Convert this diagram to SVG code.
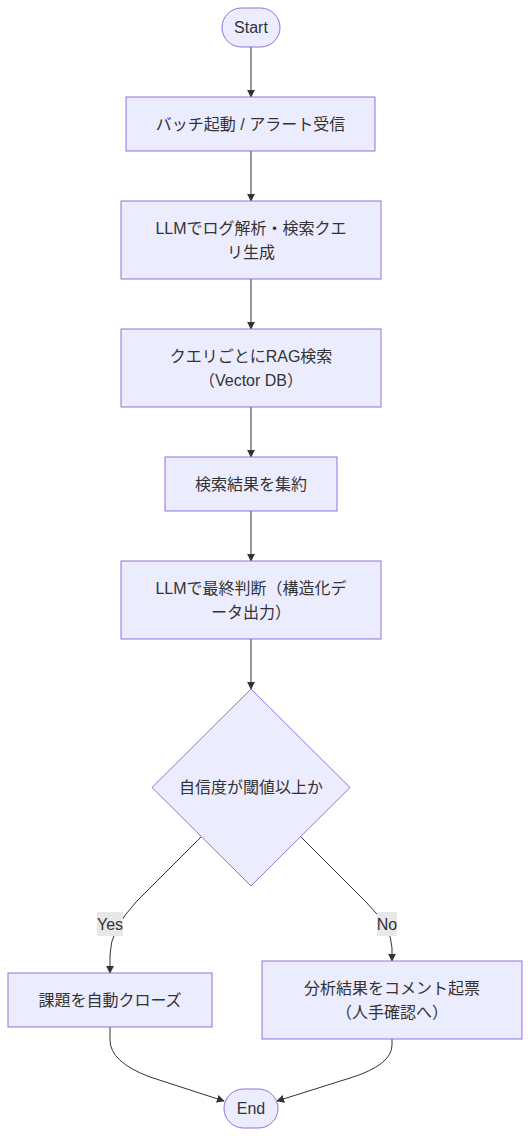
<svg xmlns="http://www.w3.org/2000/svg" width="530" height="1136" viewBox="0 0 530 1136">
<defs>
<style>
.node rect,.node polygon{fill:#ECECFF;stroke:#9370DB;stroke-width:1}
.node text,.lbl text{font-family:"Liberation Sans","Noto Sans CJK JP",Arial,sans-serif;font-size:16px;fill:#333;text-anchor:middle;dominant-baseline:central}
.edges path{fill:none;stroke:#333;stroke-width:1}
.lbl rect{fill:#e8e8e8}
</style>
<marker id="arrow" viewBox="0 0 10 10" refX="9" refY="5" markerUnits="userSpaceOnUse" markerWidth="8" markerHeight="8" orient="auto">
<path d="M0,0 L10,5 L0,10 z" fill="#333"/>
</marker>
</defs>
<rect width="530" height="1136" fill="#fff"/>
<g class="edges">
<path d="M251,47 L251,97" marker-end="url(#arrow)"/>
<path d="M251,151 L251,201" marker-end="url(#arrow)"/>
<path d="M251,279 L251,329" marker-end="url(#arrow)"/>
<path d="M251,407 L251,457" marker-end="url(#arrow)"/>
<path d="M251,511 L251,561" marker-end="url(#arrow)"/>
<path d="M251,639 L251,689" marker-end="url(#arrow)"/>
<path d="M201,837 L136,902 Q110,930 110,955 L110,973" marker-end="url(#arrow)"/>
<path d="M301,837 L366,902 Q392,928 392,948 L392,961" marker-end="url(#arrow)"/>
<path d="M110,1027 L110,1040 Q110,1062 150,1077 L224,1101" marker-end="url(#arrow)"/>
<path d="M392,1039 L392,1045 Q392,1065 350,1078 L277,1101" marker-end="url(#arrow)"/>
</g>
<g class="lbl" id="label-yes"><rect x="97" y="912" width="26" height="24"/><text x="110" y="924">Yes</text></g>
<g class="lbl" id="label-no"><rect x="377" y="912" width="20" height="24"/><text x="387" y="924">No</text></g>
<g class="node" id="start"><rect x="222" y="8" width="58" height="39" rx="19.5" ry="19.5"/><text x="251" y="27.5">Start</text></g>
<g class="node" id="batch"><rect x="126" y="97" width="249" height="54"/><text x="250.5" y="124">バッチ起動 / アラート受信</text></g>
<g class="node" id="llm1"><rect x="121" y="201" width="260" height="78"/><text x="251" y="228">LLMでログ解析・検索クエ</text><text x="251" y="252">リ生成</text></g>
<g class="node" id="rag"><rect x="121" y="329" width="260" height="78"/><text x="251" y="356">クエリごとにRAG検索</text><text x="251" y="380">（Vector DB）</text></g>
<g class="node" id="agg"><rect x="165" y="457" width="172" height="54"/><text x="251" y="484">検索結果を集約</text></g>
<g class="node" id="llm2"><rect x="121" y="561" width="260" height="78"/><text x="251" y="588">LLMで最終判断（構造化デ</text><text x="251" y="612">ータ出力）</text></g>
<g class="node" id="decide"><polygon points="251,689 350,787.5 251,886 152,787.5"/><text x="251" y="787.5">自信度が閾値以上か</text></g>
<g class="node" id="close"><rect x="8" y="973" width="204" height="54"/><text x="110" y="1000">課題を自動クローズ</text></g>
<g class="node" id="comment"><rect x="262" y="961" width="260" height="78"/><text x="392" y="988">分析結果をコメント起票</text><text x="392" y="1012">（人手確認へ）</text></g>
<g class="node" id="end"><rect x="224" y="1089" width="54" height="39" rx="19.5" ry="19.5"/><text x="251" y="1108.5">End</text></g>
</svg>
